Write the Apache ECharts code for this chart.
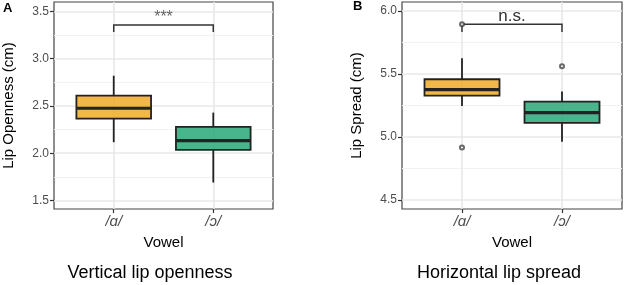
<!DOCTYPE html>
<html>
<head>
<meta charset="utf-8">
<script src="https://cdn.jsdelivr.net/npm/echarts@6/dist/echarts.min.js"></script>
<style>
  html, body { margin: 0; padding: 0; background: #fff; }
  #chart { width: 624px; height: 285px; }
</style>
</head>
<body>
<div id="chart"></div>
<script>
const vowels = ["/ɑ/", "/ɔ/"];

// [x, whisker low, q1, median, q3, whisker high]
const opennessBoxes = [
  [1, 2.117, 2.366, 2.476, 2.609, 2.82],
  [2, 1.69, 2.036, 2.134, 2.279, 2.43],
];
const spreadBoxes = [
  [1, 5.246, 5.328, 5.375, 5.458, 5.625],
  [2, 4.963, 5.113, 5.193, 5.28, 5.36],
];
const opennessOutliers = [];
const spreadOutliers = [
  [1, 4.918],
  [1, 5.894],
  [2, 5.561],
];

const opennessTicks = [1.5, 2.0, 2.5, 3.0, 3.5];
const opennessMinor = [1.75, 2.25, 2.75, 3.25];
const spreadTicks = [4.5, 5.0, 5.5, 6.0];
const spreadMinor = [4.75, 5.25, 5.75];

// [x from, x to, bracket y, tip y, label]
const opennessBracket = [[1, 2, 3.356, 3.282, "***"]];
const spreadBracket = [[1, 2, 5.894, 5.833, "n.s."]];

const fills = ["rgba(238,170,40,0.85)", "rgba(40,168,120,0.85)"];
const FONT = "'Liberation Sans', Arial, Helvetica, sans-serif";
const boxWidth = 0.75;

const chart = echarts.init(document.getElementById("chart"), null, { renderer: "canvas" });

function renderBox(params, api) {
  const x = api.value(0);
  const lo = api.coord([x, api.value(1)]);
  const q1 = api.coord([x - boxWidth / 2, api.value(2)]);
  const med = api.coord([x, api.value(3)]);
  const q3 = api.coord([x + boxWidth / 2, api.value(4)]);
  const hi = api.coord([x, api.value(5)]);
  const lineStyle = { stroke: "#222", lineWidth: 1.8 };
  return {
    type: "group",
    children: [
      { type: "line", shape: { x1: hi[0], y1: hi[1], x2: hi[0], y2: q3[1] }, style: lineStyle },
      { type: "line", shape: { x1: lo[0], y1: lo[1], x2: lo[0], y2: q1[1] }, style: lineStyle },
      {
        type: "rect",
        shape: { x: q1[0], y: q3[1], width: q3[0] - q1[0], height: q1[1] - q3[1] },
        style: { fill: fills[params.dataIndex], stroke: "#222", lineWidth: 1.8 },
      },
      { type: "line", shape: { x1: q1[0], y1: med[1], x2: q3[0], y2: med[1] }, style: { stroke: "#222", lineWidth: 3.2 } },
    ],
  };
}

function makeBracketRenderer(fontSize, color) {
  return function (params, api) {
    const a = api.coord([api.value(0), api.value(2)]);
    const b = api.coord([api.value(1), api.value(2)]);
    const ta = api.coord([api.value(0), api.value(3)]);
    const tb = api.coord([api.value(1), api.value(3)]);
    return {
      type: "group",
      children: [
        {
          type: "polyline",
          shape: { points: [ta, a, b, tb] },
          style: { stroke: "#333", lineWidth: 1.5, fill: null },
        },
        {
          type: "text",
          style: {
            text: api.value(4),
            x: (a[0] + b[0]) / 2,
            y: a[1] + 1,
            align: "center",
            verticalAlign: "bottom",
            fontSize: fontSize,
            fontFamily: FONT,
            fill: color,
          },
        },
      ],
    };
  };
}

function xAxisFor(gridIndex) {
  return {
    type: "value",
    gridIndex: gridIndex,
    min: 0.4,
    max: 2.6,
    name: "Vowel",
    nameLocation: "middle",
    nameGap: 26,
    nameTextStyle: { fontFamily: FONT, fontSize: 15, color: "#000" },
    axisLine: { show: false },
    axisTick: { show: true, customValues: [1, 2], length: 4, lineStyle: { color: "#333", width: 1.2 } },
    axisLabel: {
      customValues: [1, 2],
      formatter: (v) => vowels[Math.round(v) - 1],
      margin: 5,
      fontFamily: FONT,
      fontSize: 15,
      fontStyle: "italic",
      color: "#4d4d4d",
    },
    splitLine: { show: true, lineStyle: { color: "#e8e8e8", width: 1.6 } },
  };
}

function yAxisFor(gridIndex, min, max, ticks, name) {
  return {
    type: "value",
    gridIndex: gridIndex,
    min: min,
    max: max,
    position: "left",
    name: name,
    nameLocation: "middle",
    nameGap: 38,
    nameTextStyle: { fontFamily: FONT, fontSize: 15, color: "#000" },
    axisLine: { show: false },
    axisTick: { show: true, customValues: ticks, length: 4, lineStyle: { color: "#333", width: 1.2 } },
    axisLabel: {
      customValues: ticks,
      formatter: (v) => v.toFixed(1),
      margin: 5,
      fontFamily: FONT,
      fontSize: 12,
      color: "#4d4d4d",
    },
    splitLine: { show: true, lineStyle: { color: "#e8e8e8", width: 1.6 } },
  };
}

function minorAxisFor(gridIndex, min, max, ticks) {
  return {
    type: "value",
    gridIndex: gridIndex,
    min: min,
    max: max,
    position: "left",
    axisLine: { show: false },
    axisTick: { show: false, customValues: ticks },
    axisLabel: { show: false },
    splitLine: { show: true, lineStyle: { color: "#f2f2f2", width: 1 } },
  };
}

const outlierStyle = { color: "#444", borderColor: "#444", borderWidth: 1 };

const option = {
  animation: false,
  backgroundColor: "#fff",
  grid: [
    { left: 54, top: 2, width: 219, height: 207, show: true, borderColor: "#444", borderWidth: 1.2, backgroundColor: "transparent" },
    { left: 402, top: 2, width: 220, height: 207, show: true, borderColor: "#444", borderWidth: 1.2, backgroundColor: "transparent" },
  ],
  xAxis: [xAxisFor(0), xAxisFor(1)],
  yAxis: [
    minorAxisFor(0, 1.41, 3.6, opennessMinor),
    yAxisFor(0, 1.41, 3.6, opennessTicks, "Lip Openness (cm)"),
    minorAxisFor(1, 4.43, 6.07, spreadMinor),
    yAxisFor(1, 4.43, 6.07, spreadTicks, "Lip Spread (cm)"),
  ],
  series: [
    {
      type: "custom",
      xAxisIndex: 0,
      yAxisIndex: 1,
      renderItem: renderBox,
      encode: { x: 0, y: [1, 2, 3, 4, 5] },
      data: opennessBoxes,
      z: 3,
    },
    {
      type: "custom",
      xAxisIndex: 1,
      yAxisIndex: 3,
      renderItem: renderBox,
      encode: { x: 0, y: [1, 2, 3, 4, 5] },
      data: spreadBoxes,
      z: 3,
    },
    {
      type: "scatter",
      xAxisIndex: 0,
      yAxisIndex: 1,
      data: opennessOutliers,
      symbol: "emptyCircle",
      symbolSize: 4,
      itemStyle: outlierStyle,
      z: 6,
    },
    {
      type: "scatter",
      xAxisIndex: 1,
      yAxisIndex: 3,
      data: spreadOutliers,
      symbol: "emptyCircle",
      symbolSize: 4,
      itemStyle: outlierStyle,
      z: 6,
    },
    {
      type: "custom",
      xAxisIndex: 0,
      yAxisIndex: 1,
      renderItem: makeBracketRenderer(16, "#666"),
      encode: { x: [0, 1], y: [2, 3] },
      data: opennessBracket,
      z: 5,
    },
    {
      type: "custom",
      xAxisIndex: 1,
      yAxisIndex: 3,
      renderItem: makeBracketRenderer(17, "#333"),
      encode: { x: [0, 1], y: [2, 3] },
      data: spreadBracket,
      z: 5,
    },
  ],
  graphic: [
    { type: "text", left: 3, top: 2, style: { text: "A", fontFamily: FONT, fontSize: 13, fontWeight: "bold", fill: "#000" } },
    { type: "text", left: 353, top: 0, style: { text: "B", fontFamily: FONT, fontSize: 13, fontWeight: "bold", fill: "#000" } },
    {
      type: "text",
      x: 150,
      y: 273,
      style: { text: "Vertical lip openness", fontFamily: FONT, fontSize: 18, fill: "#000", align: "center", verticalAlign: "middle" },
    },
    {
      type: "text",
      x: 499,
      y: 273,
      style: { text: "Horizontal lip spread", fontFamily: FONT, fontSize: 18, fill: "#000", align: "center", verticalAlign: "middle" },
    },
  ],
};

chart.setOption(option);
</script>
</body>
</html>
